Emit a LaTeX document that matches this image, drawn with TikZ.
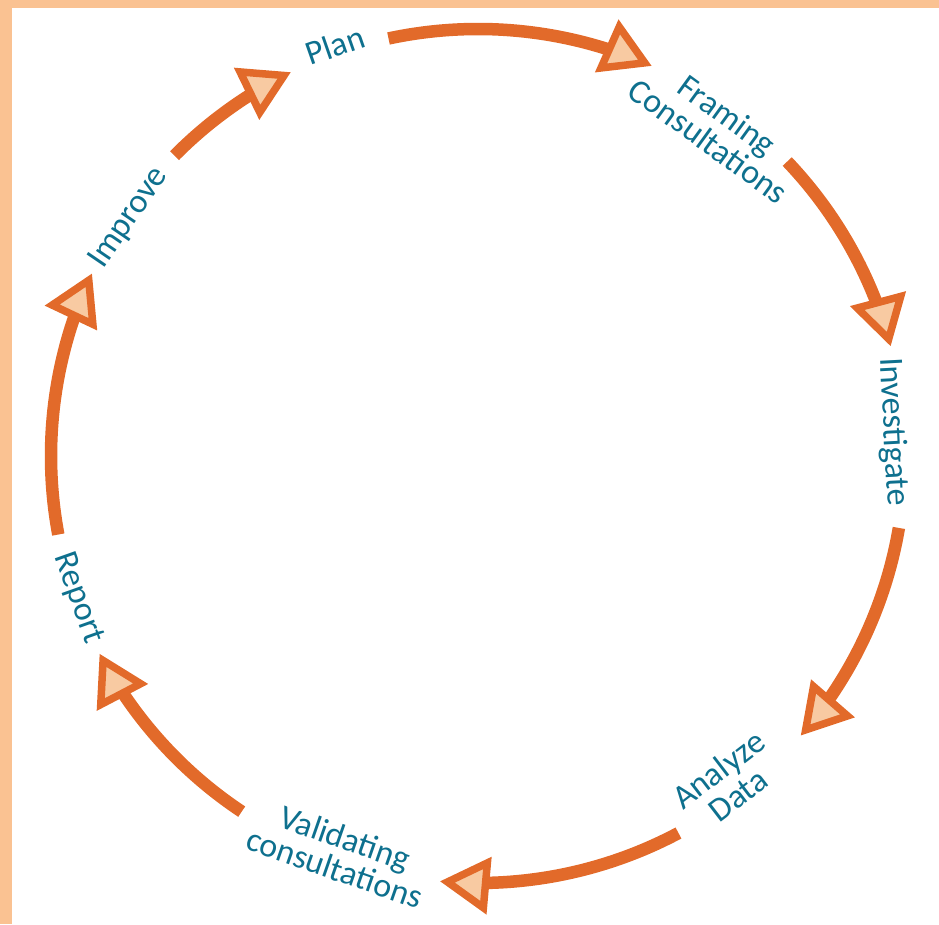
\documentclass[tikz,border=0pt]{standalone}
\usepackage{fontspec}
\setmainfont{Carlito}
\usetikzlibrary{calc}
\definecolor{lineorange}{RGB}{226,106,42}
\definecolor{tipfill}{RGB}{248,202,162}
\definecolor{framepeach}{RGB}{250,194,146}
\definecolor{labelteal}{RGB}{14,112,142}
\begin{document}
\begin{tikzpicture}[x=1pt,y=1pt,
  cycleline/.style={draw=lineorange,line width=12.5pt},
  tipshape/.style={draw=lineorange,fill=tipfill,line width=7.5pt,line join=miter},
  steplabel/.style={text=labelteal,font=\fontsize{34}{32}\selectfont,align=center,inner sep=0pt}]
\useasboundingbox (0,0) rectangle (939,924);
\fill[framepeach] (0,0) rectangle (12,924);
\fill[framepeach] (0,916) rectangle (939,924);
\coordinate (C) at (478,468);
\node[steplabel,rotate=19.2] (plan) at (335,879) {Plan};
\node[steplabel,rotate=-36] (framing) at (718,796) {Framing\\Consultations};
\node[steplabel,rotate=-87] (investigate) at (893,492) {Investigate};
\node[steplabel,rotate=37.5] (analyze) at (728,142) {Analyze\\Data};
\node[steplabel,rotate=-19.2] (validating) at (340,71) {Validating\\consultations};
\node[steplabel,rotate=-70.5] (report) at (78,326) {Report};
\node[steplabel,rotate=55.7] (improve) at (129,706) {Improve};
\foreach \s/\t in {102.1/66, 43.6/14.9, -9.7/-40.9, -62/-95.1, -123.6/-152.4, -169.4/-205.3, 135.3/116}{
  \draw[cycleline] ($(C)+(\s:427)$) arc[start angle=\s, end angle={\t+6}, radius=427];
  \begin{scope}[shift={($(C)+(\t:427)$)}, rotate=\t-90]
    \filldraw[tipshape] (-7.5,0) -- (-45.5,22.5) -- (-45.5,-22.5) -- cycle;
  \end{scope}
}
\end{tikzpicture}
\end{document}
